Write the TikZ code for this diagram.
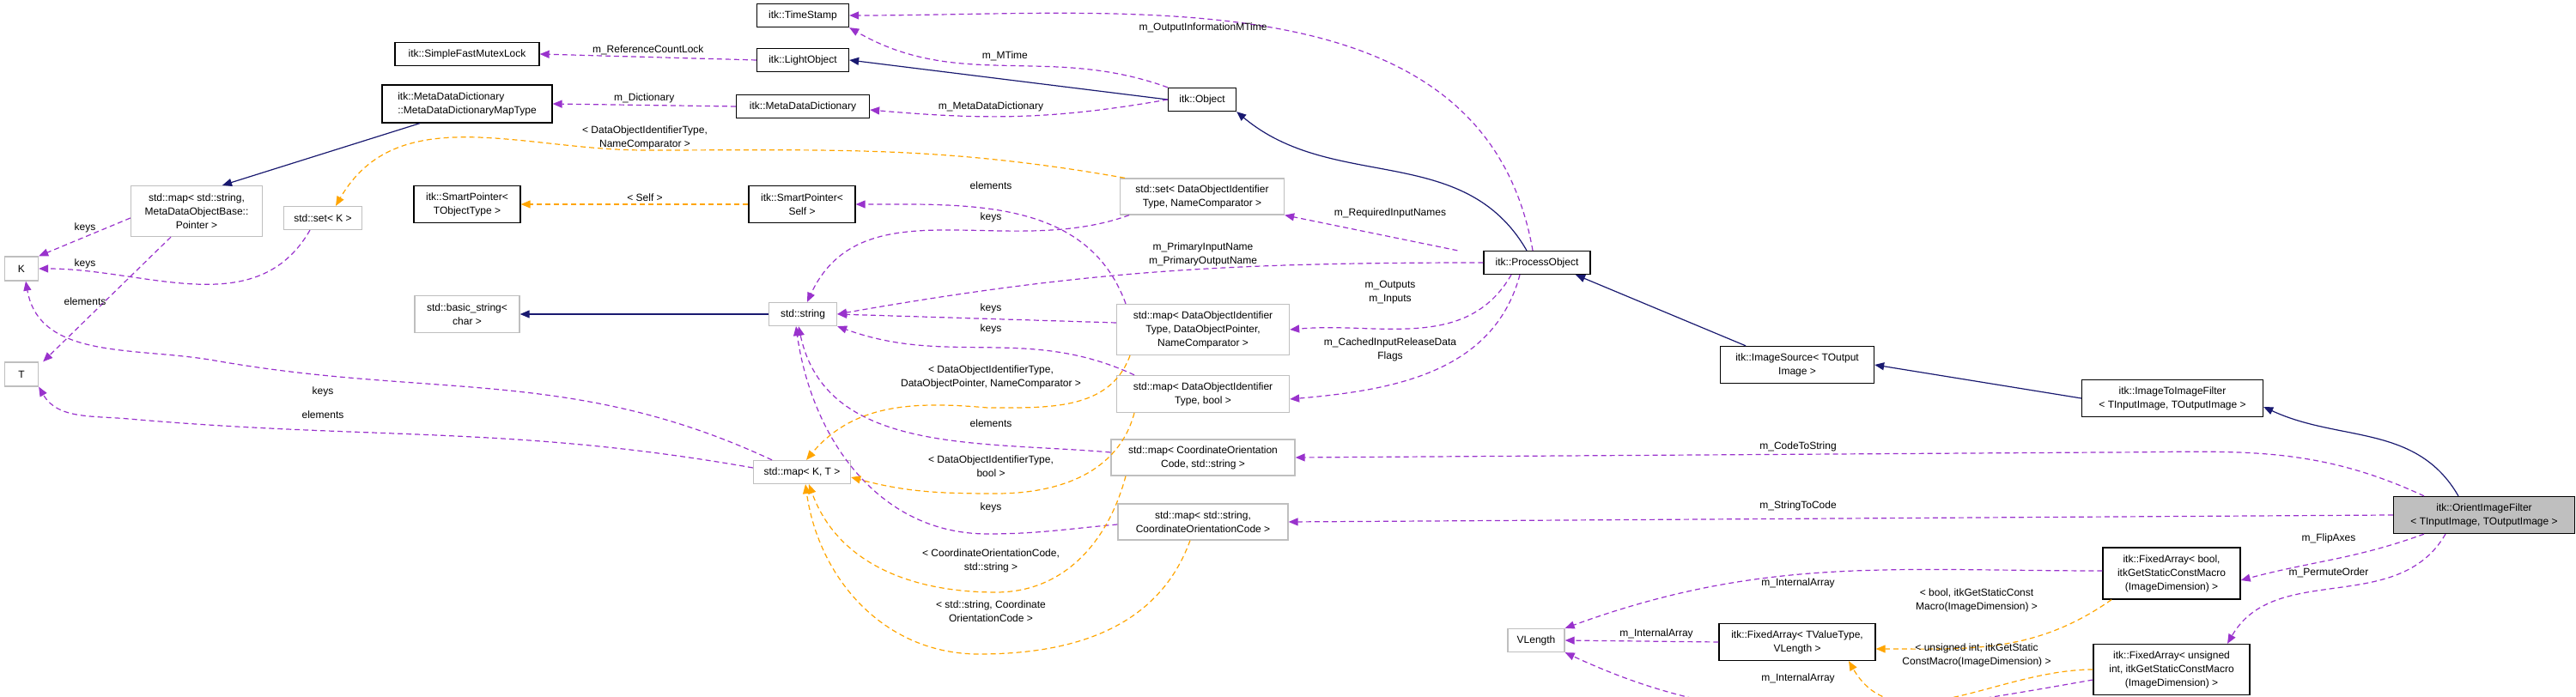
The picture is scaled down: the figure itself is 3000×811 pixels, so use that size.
\documentclass[tikz,border=0pt]{standalone}
\usepackage{fontspec}
\setmainfont{Liberation Sans}
\usetikzlibrary{arrows.meta}
\definecolor{inh}{RGB}{25,25,112}
\definecolor{use}{RGB}{153,50,204}
\definecolor{tpl}{RGB}{255,165,0}
\definecolor{gb}{RGB}{191,191,191}
\begin{document}
\begin{tikzpicture}[x=1pt,y=1pt,
  every node/.style={font=\fontsize{12}{16}\selectfont, inner sep=0pt},
  blk/.style={draw=black, line width=1.3pt, fill=white, align=center},
  gry/.style={draw=gb, line width=1.3pt, fill=white, align=center},
  lab/.style={align=center},
  inh/.style={draw=inh, line width=1.2pt, -{Triangle[length=11pt,width=9pt]}},
  use/.style={draw=use, line width=1.2pt, dash pattern=on 6pt off 4pt, -{Triangle[length=11pt,width=9pt]}},
  tpl/.style={draw=tpl, line width=1.2pt, dash pattern=on 6pt off 4pt, -{Triangle[length=11pt,width=9pt]}}]
\useasboundingbox (0,0) rectangle (3000,811);
% nodes
\node[blk,minimum width=107,minimum height=27] (ts) at (935,{811-18}) {itk::TimeStamp};
\node[blk,minimum width=168,minimum height=27] (mutex) at (544,{811-63}) {itk::SimpleFastMutexLock};
\node[blk,minimum width=107,minimum height=27] (light) at (935,{811-70}) {itk::LightObject};
\node[blk,minimum width=198,minimum height=44,align=left] (maptype) at (544,{811-121}) {itk::MetaDataDictionary\\::MetaDataDictionaryMapType};
\node[blk,minimum width=155,minimum height=27] (mdd) at (935,{811-124}) {itk::MetaDataDictionary};
\node[gry,minimum width=153,minimum height=59] (mapmd) at (229,{811-246}) {std::map< std::string,\\MetaDataObjectBase::\\Pointer >};
\node[gry,minimum width=91,minimum height=27] (setk) at (376,{811-254}) {std::set< K >};
\node[gry,minimum width=39,minimum height=28] (K) at (25,{811-313}) {K};
\node[gry,minimum width=39,minimum height=28] (T) at (25,{811-436}) {T};
\node[blk,minimum width=124,minimum height=43] (spt) at (544,{811-238}) {itk::SmartPointer<\\TObjectType >};
\node[blk,minimum width=124,minimum height=43] (sps) at (934,{811-238}) {itk::SmartPointer<\\Self >};
\node[gry,minimum width=122,minimum height=43] (bstr) at (544,{811-366}) {std::basic\_string<\\char >};
\node[gry,minimum width=79,minimum height=27] (str) at (935,{811-366}) {std::string};
\node[blk,minimum width=79,minimum height=27] (obj) at (1400,{811-116}) {itk::Object};
\node[gry,minimum width=191,minimum height=42] (setdoi) at (1400,{811-229}) {std::set< DataObjectIdentifier\\Type, NameComparator >};
\node[blk,minimum width=124,minimum height=27] (po) at (1790,{811-306}) {itk::ProcessObject};
\node[gry,minimum width=201,minimum height=59] (mapdop) at (1401,{811-384}) {std::map< DataObjectIdentifier\\Type, DataObjectPointer,\\NameComparator >};
\node[gry,minimum width=201,minimum height=43] (mapbool) at (1401,{811-459}) {std::map< DataObjectIdentifier\\Type, bool >};
\node[gry,minimum width=214,minimum height=42] (mapcs) at (1401,{811-533}) {std::map< CoordinateOrientation\\Code, std::string >};
\node[gry,minimum width=198,minimum height=42] (mapsc) at (1401,{811-608}) {std::map< std::string,\\CoordinateOrientationCode >};
\node[gry,minimum width=113,minimum height=27] (mapkt) at (934,{811-550}) {std::map< K, T >};
\node[gry,minimum width=66,minimum height=27] (vlen) at (1789,{811-746}) {VLength};
\node[blk,minimum width=179,minimum height=43] (isrc) at (2093,{811-425}) {itk::ImageSource< TOutput\\Image >};
\node[blk,minimum width=211,minimum height=43] (itif) at (2530,{811-464}) {itk::ImageToImageFilter\\< TInputImage, TOutputImage >};
\node[blk,fill=gb,minimum width=211,minimum height=43] (oif) at (2893,{811-600}) {itk::OrientImageFilter\\< TInputImage, TOutputImage >};
\node[blk,minimum width=160,minimum height=60] (fab) at (2529,{811-668}) {itk::FixedArray< bool,\\itkGetStaticConstMacro\\(ImageDimension) >};
\node[blk,minimum width=182,minimum height=43] (fav) at (2093,{811-748}) {itk::FixedArray< TValueType,\\VLength >};
\node[blk,minimum width=182,minimum height=59] (fau) at (2529,{811-780}) {itk::FixedArray< unsigned\\int, itkGetStaticConstMacro\\(ImageDimension) >};
% inheritance
\draw[inh] (obj.west) -- (light.east);
\draw[inh] ([xshift=-12pt]po.north) to[out=120,in=-40] (obj.south east);
\draw[inh] ([xshift=-60pt]isrc.north) -- ([xshift=45pt]po.south);
\draw[inh] (itif.west) -- (isrc.east);
\draw[inh] ([xshift=-30pt]oif.north) to[out=120,in=-25] ([yshift=-10pt]itif.east);
\draw[inh] ([xshift=-55pt]maptype.south) -- ([xshift=30pt]mapmd.north);
\draw[inh] (str.west) -- (bstr.east);
% usage
\draw[use] (light.west) -- (mutex.east) node[lab,pos=0.5,above=2pt] (l1) {m\_ReferenceCountLock};
\draw[use] (obj.north west) to[out=160,in=-30] node[lab,pos=0.5,above=4pt] (l2) {m\_MTime} (ts.south east);
\draw[use] ([xshift=-5pt]po.north) to[out=100,in=0] (ts.east);
\node[lab] (l3) at (1401,{811-32}) {m\_OutputInformationMTime};
\draw[use] (obj.west) to[out=190,in=-5] ([yshift=-4pt]mdd.east);
\node[lab] (l4) at (1154,{811-124}) {m\_MetaDataDictionary};
\draw[use] (mdd.west) -- (maptype.east) node[lab,pos=0.5,above=2pt] (l5) {m\_Dictionary};
\draw[use] ([yshift=-8pt]mapmd.west) -- (K.north east);
\node[lab] (l6) at (99,{811-265}) {keys};
\draw[use] ([xshift=-15pt]setk.south) to[out=240,in=0] (K.east);
\node[lab] (l7) at (99,{811-307}) {keys};
\draw[use] ([xshift=-30pt]mapmd.south) -- ([xshift=5pt]T.north east);
\node[lab] (l8) at (99,{811-351}) {elements};
\draw[use] ([xshift=-35pt]mapkt.north) to[out=155,in=-10] (250,{811-420}) to[out=170,in=-80] ([xshift=5pt]K.south);
\node[lab] (l9) at (376,{811-456}) {keys};
\draw[use] ([yshift=5pt]mapkt.west) to[out=170,in=-5] (150,{811-488}) to[out=175,in=-60] (T.south east);
\node[lab] (l10) at (376,{811-483}) {elements};
\draw[use] ([xshift=-85pt]setdoi.south) to[out=200,in=65] ([xshift=5pt]str.north);
\node[lab] (l11) at (1154,{811-253}) {keys};
\draw[use] ([xshift=-90pt]mapdop.north) to[out=110,in=0] (sps.east);
\node[lab] (l12) at (1154,{811-216}) {elements};
\draw[use] ([yshift=8pt]mapdop.west) -- (str.east);
\node[lab] (l13) at (1154,{811-359}) {keys};
\draw[use] ([xshift=-80pt]mapbool.north) to[out=155,in=-20] (str.south east);
\node[lab] (l14) at (1154,{811-383}) {keys};
\draw[use] ([yshift=6pt]mapcs.west) to[out=175,in=-78] ([xshift=-5pt]str.south);
\node[lab] (l15) at (1154,{811-493}) {elements};
\draw[use] ([yshift=-3pt]mapsc.west) to[out=185,in=0] (1150,{811-622}) to[out=180,in=-82] ([xshift=-8pt]str.south);
\node[lab] (l16) at (1154,{811-591}) {keys};
\draw[use] ([xshift=-30pt]po.north west) -- ([yshift=0pt]setdoi.south east);
\node[lab] (l17) at (1619,{811-248}) {m\_RequiredInputNames};
\draw[use] (po.west) to[out=180,in=10] (str.east);
\node[lab] (l18) at (1401,{811-296}) {m\_PrimaryInputName\\m\_PrimaryOutputName};
\draw[use] ([xshift=-30pt]po.south) to[out=240,in=5] (mapdop.east);
\node[lab] (l19) at (1619,{811-341}) {m\_Outputs\\m\_Inputs};
\draw[use] ([xshift=-20pt]po.south) to[out=255,in=5] ([yshift=-6pt]mapbool.east);
\node[lab] (l20) at (1619,{811-407}) {m\_CachedInputReleaseData\\Flags};
\draw[use] ([xshift=-70pt]oif.north) to[out=155,in=0] (2450,{811-527}) -- (mapcs.east);
\node[lab] (l21) at (2094,{811-520}) {m\_CodeToString};
\draw[use] (oif.west) -- (mapsc.east);
\node[lab] (l22) at (2094,{811-589}) {m\_StringToCode};
\draw[use] ([xshift=-70pt]oif.south) to[out=200,in=15] ([yshift=-8pt]fab.east);
\node[lab] (l23) at (2712,{811-627}) {m\_FlipAxes};
\draw[use] ([xshift=-45pt]oif.south) to[out=240,in=60] ([xshift=65pt]fau.north);
\node[lab] (l24) at (2712,{811-667}) {m\_PermuteOrder};
\draw[use] ([yshift=3pt]fab.west) to[out=180,in=20] (vlen.north east);
\node[lab] (l25) at (2094,{811-679}) {m\_InternalArray};
\draw[use] (fav.west) -- (vlen.east);
\node[lab] (l26) at (1929,{811-738}) {m\_InternalArray};
\draw[use] ([yshift=-12pt]fau.west) to[out=190,in=-25] (vlen.south east);
\node[lab] (l27) at (2094,{811-790}) {m\_InternalArray};
% templates
\draw[tpl] ([xshift=-90pt]setdoi.north) to[out=170,in=0] (751,{811-175}) to[out=180,in=60] ([xshift=15pt]setk.north);
\node[lab] (l28) at (751,{811-160}) {< DataObjectIdentifierType,\\NameComparator >};
\draw[tpl] (sps.west) -- (spt.east);
\node[lab] (l29) at (751,{811-230}) {< Self >};
\draw[tpl] ([xshift=-85pt]mapdop.south) to[out=250,in=0] (1150,{811-475}) to[out=175,in=50] ([xshift=5pt]mapkt.north);
\node[lab] (l30) at (1154,{811-439}) {< DataObjectIdentifierType,\\DataObjectPointer, NameComparator >};
\draw[tpl] ([xshift=-80pt]mapbool.south) to[out=255,in=0] (1160,{811-575}) to[out=180,in=-15] ([yshift=-6pt]mapkt.east);
\node[lab] (l31) at (1154,{811-543}) {< DataObjectIdentifierType,\\bool >};
\draw[tpl] ([xshift=-90pt]mapcs.south) to[out=255,in=0] (1160,{811-690}) to[out=180,in=-70] ([xshift=8pt]mapkt.south);
\node[lab] (l32) at (1154,{811-653}) {< CoordinateOrientationCode,\\std::string >};
\draw[tpl] ([xshift=-15pt]mapsc.south) to[out=250,in=0] (1140,{811-762}) to[out=180,in=-82] ([xshift=4pt]mapkt.south);
\node[lab] (l33) at (1154,{811-712}) {< std::string, Coordinate\\OrientationCode >};
\draw[tpl] ([xshift=-70pt]fab.south) to[out=215,in=0] ([yshift=-8pt]fav.east);
\node[lab] (l34) at (2302,{811-699}) {< bool, itkGetStaticConst\\Macro(ImageDimension) >};
\draw[tpl] ([yshift=0pt]fau.west) to[out=180,in=-60] ([xshift=60pt]fav.south);
\node[lab] (l35) at (2302,{811-763}) {< unsigned int, itkGetStatic\\ConstMacro(ImageDimension) >};
\end{tikzpicture}
\end{document}
